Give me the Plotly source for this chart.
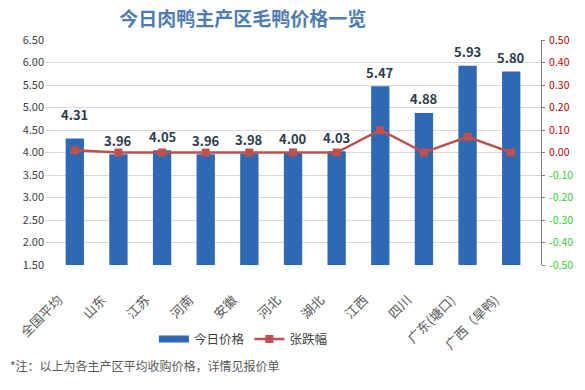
import plotly.graph_objects as go

categories = ["全国平均", "山东", "江苏", "河南", "安徽", "河北", "湖北", "江西", "四川", "广东(塘口)", "广西（旱鸭)"]
prices = [4.31, 3.96, 4.05, 3.96, 3.98, 4.00, 4.03, 5.47, 4.88, 5.93, 5.80]
changes = [0.01, 0.00, 0.00, 0.00, 0.00, 0.00, 0.00, 0.10, 0.00, 0.07, 0.00]
left_ticks = [1.5, 2.0, 2.5, 3.0, 3.5, 4.0, 4.5, 5.0, 5.5, 6.0, 6.5]
right_ticks = [-0.5, -0.4, -0.3, -0.2, -0.1, 0.0, 0.1, 0.2, 0.3, 0.4, 0.5]

font = "Noto Sans CJK SC"
bar_color = "#2f69b3"
line_color = "#c0504d"
label_shifts = [24, 14, 14, 14, 14, 14, 14, 14, 14, 14, 14]

right_text = []
for v in right_ticks:
    c = "#c00000" if v >= 0 else "#33cc33"
    right_text.append(f"<span style='color:{c}'>{v:.2f}</span>")

fig = go.Figure()
fig.add_trace(go.Bar(
    x=categories, y=[p - 1.5 for p in prices], base=1.5,
    name="今日价格", showlegend=False,
    marker=dict(color=bar_color, line=dict(width=0)),
    hoverinfo="skip",
))
# legend entry for bars (wide rectangle like the reference)
fig.add_trace(go.Scatter(
    x=[None], y=[None], mode="lines", name="今日价格",
    line=dict(color=bar_color, width=7),
))
fig.add_trace(go.Scatter(
    x=categories, y=changes, name="张跌幅", yaxis="y2",
    mode="lines+markers",
    line=dict(color=line_color, width=2.5),
    marker=dict(symbol="square", size=8, color=line_color),
))

annotations = []
for c, p, s in zip(categories, prices, label_shifts):
    annotations.append(dict(
        x=c, y=p, xref="x", yref="y", text=f"<b>{p:.2f}</b>",
        showarrow=False, yshift=s, yanchor="middle",
        font=dict(size=13, color="#2d3b4e", family=font)))
annotations.append(dict(
    text="*注：以上为各主产区平均收购价格，详情见报价单",
    xref="paper", yref="paper", x=-0.075, y=-0.445,
    xanchor="left", yanchor="middle", showarrow=False,
    font=dict(size=12, color="#595959", family=font)))

fig.update_layout(
    width=585, height=390,
    margin=dict(l=45, r=40, t=40, b=125),
    paper_bgcolor="white", plot_bgcolor="white",
    font=dict(family=font, size=11, color="#595959"),
    title=dict(text="<b>今日肉鸭主产区毛鸭价格一览</b>", x=0.415, xanchor="center",
               y=0.95, yanchor="middle",
               font=dict(size=19, color="#4f7cb3", family=font)),
    bargap=0.58,
    showlegend=True,
    legend=dict(orientation="h", x=0.40, xanchor="center", y=-0.33, yanchor="middle",
                font=dict(size=12.5, color="#404040"), traceorder="normal",
                itemwidth=30),
    xaxis=dict(tickangle=-45, tickfont=dict(size=13, color="#595959"),
               showgrid=False, showline=False, ticks="",
               ticklabelstandoff=24, ticklabelshift=-16),
    yaxis=dict(range=[1.5, 6.5], tickvals=left_ticks,
               ticktext=[f"{v:.2f}" for v in left_ticks],
               gridcolor="#d9d9d9", gridwidth=1, zeroline=False,
               tickfont=dict(size=11, color="#404040"), showline=False),
    yaxis2=dict(range=[-0.5, 0.5], tickvals=right_ticks, ticktext=right_text,
                overlaying="y", side="right", showgrid=False, zeroline=False,
                showline=True, linecolor="#808080", linewidth=1,
                ticks="outside", ticklen=3, tickcolor="#808080",
                ticklabelstandoff=2,
                tickfont=dict(size=10.5)),
    annotations=annotations,
)

fig.write_html("out.html", config={"displayModeBar": False},
               post_script="document.body.style.margin='0';")
